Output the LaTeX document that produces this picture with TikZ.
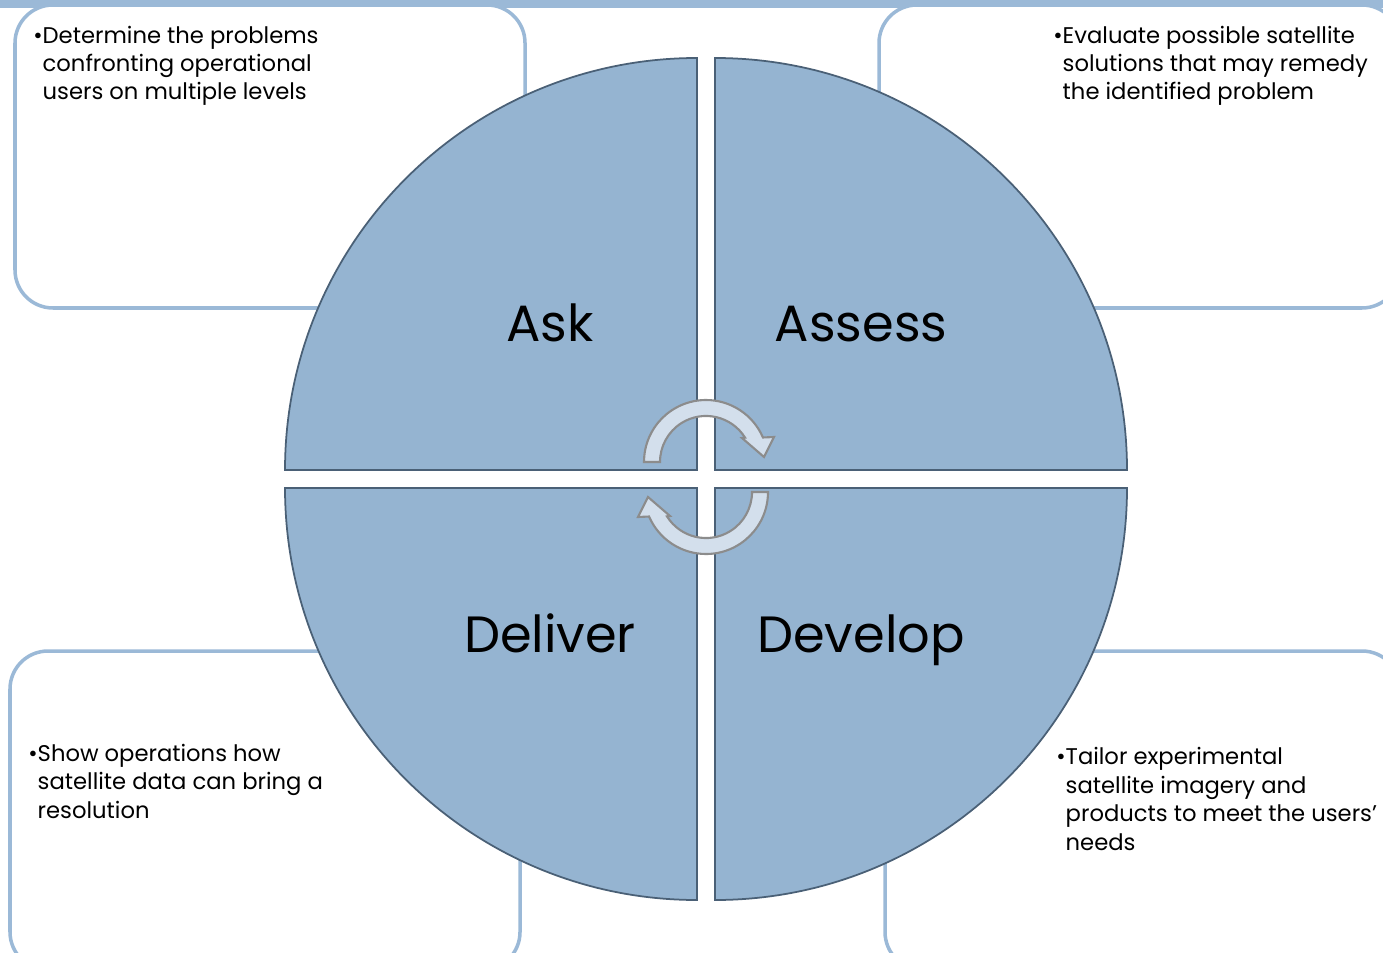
\documentclass[tikz,border=0pt]{standalone}
\usepackage{fontspec}
\setmainfont{Poppins}
\usepackage{tikz}

\definecolor{quadblue}{RGB}{149,180,209}
\definecolor{quadline}{RGB}{74,96,118}
\definecolor{boxline}{RGB}{155,185,215}
\definecolor{arrowfill}{RGB}{211,223,236}

\begin{document}
\begin{tikzpicture}[x=0.01cm, y=0.01cm,
    infobox/.style={draw=boxline, line width=1pt, fill=white, rounded corners=0.38cm},
    quadrant/.style={fill=quadblue, draw=quadline, line width=0.5pt},
    cyclearrow/.style={fill=arrowfill, draw=gray!90, line width=0.6pt},
    phase/.style={inner sep=0pt, anchor=base, font=\fontsize{14.5}{17}\selectfont},
    note/.style={inner sep=0pt, anchor=base west, align=left, font=\fontsize{6.45}{8.1}\selectfont}]

    \useasboundingbox (0,0) rectangle (1383,-952);

    % boxes behind the circle
    \fill[boxline] (0,0) rectangle (1383,-8);
    \draw[infobox] (15,-5) rectangle (525,-308);
    \draw[infobox] (879,-5) rectangle (1400,-308);
    \draw[infobox] (10,-651) rectangle (520,-970);
    \draw[infobox] (885,-651) rectangle (1400,-970);

    % the four quadrants
    \draw[quadrant] (697,-470) -- ++(-412,0) arc[start angle=180, end angle=90, radius=412] -- cycle;
    \draw[quadrant] (715,-470) -- ++(0,412) arc[start angle=90, end angle=0, radius=412] -- cycle;
    \draw[quadrant] (697,-488) -- ++(-412,0) arc[start angle=180, end angle=270, radius=412] -- cycle;
    \draw[quadrant] (715,-488) -- ++(412,0) arc[start angle=0, end angle=-90, radius=412] -- cycle;

    % circular arrows
    \draw[cyclearrow] (644,-462) arc[start angle=180, end angle=23.3, radius=62]
        -- (774,-437) -- (764,-457) -- (742,-438) -- (745,-437.6)
        arc[start angle=32, end angle=180, radius=46] -- cycle;
    \draw[cyclearrow, rotate around={180:(706,-477)}] (644,-462) arc[start angle=180, end angle=23.3, radius=62]
        -- (774,-437) -- (764,-457) -- (742,-438) -- (745,-437.6)
        arc[start angle=32, end angle=180, radius=46] -- cycle;

    \node[phase] (ask)     at (550,-341) {Ask};
    \node[phase] (assess)  at (861,-341) {Assess};
    \node[phase] (deliver) at (550,-652) {Deliver};
    \node[phase] (develop) at (861,-652) {Develop};

    % notes: anchored at the baseline of their last line
    \node[note] (asktext)     at (42,-100)   {\llap{\textbullet}Determine the problems\\confronting operational\\users on multiple levels};
    \node[note] (assesstext)  at (1062,-100) {\llap{\textbullet}Evaluate possible satellite\\solutions that may remedy\\the identified problem};
    \node[note] (delivertext) at (37,-818)   {\llap{\textbullet}Show operations how\\satellite data can bring a\\resolution};
    \node[note] (developtext) at (1065,-850) {\llap{\textbullet}Tailor experimental\\satellite imagery and\\products to meet the users'\\needs};
\end{tikzpicture}
\end{document}
